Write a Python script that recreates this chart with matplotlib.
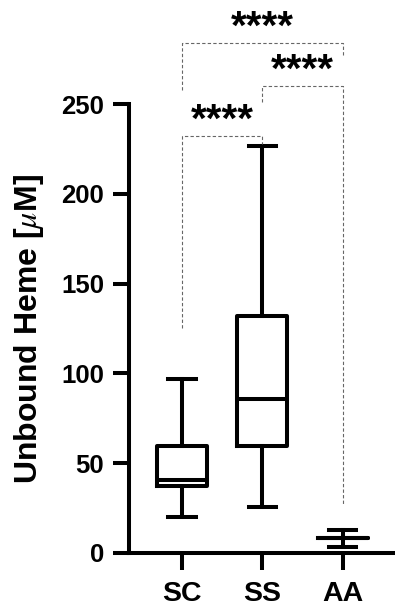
import matplotlib
matplotlib.use("Agg")
import matplotlib.pyplot as plt

plt.rcParams['font.family'] = ['Liberation Sans', 'DejaVu Sans']
plt.rcParams['mathtext.fontset'] = 'stix'

# box plot summary values
groups = ["SC", "SS", "AA"]
whislo = [19.9, 25.4, 3.3]
q1 = [37.3, 59.6, 8.4]
med = [40.5, 86.0, 8.4]
q3 = [59.6, 132.0, 8.4]
whishi = [96.9, 226.8, 12.8]

# significance brackets: (left group, right group, height, left leg end, right leg end)
pairs = [(1, 2, 232.3, 125.3, 228.0),
         (2, 3, 260.0, 251.0, 26.7),
         (1, 3, 284.0, 257.8, 276.7)]
stars = ["****", "****", "****"]

fig = plt.figure(figsize=(3.95, 6.07), dpi=100)
ax = fig.add_axes([129/395, 1 - 553/607, (395 - 129)/395, (553 - 104)/607])

stats = []
for i in range(len(groups)):
    stats.append(dict(whislo=whislo[i], q1=q1[i], med=med[i], q3=q3[i],
                      whishi=whishi[i], fliers=[], label=groups[i]))

lw = 2.9
ax.bxp(stats, positions=[1, 2, 3], widths=0.62, capwidths=0.34,
       showfliers=False,
       boxprops=dict(color="black", linewidth=lw),
       medianprops=dict(color="black", linewidth=lw),
       whiskerprops=dict(color="black", linewidth=lw),
       capprops=dict(color="black", linewidth=lw))

for (a, b, h, la, lb), s in zip(pairs, stars):
    ax.plot([a, a, b, b], [la, h, h, lb], color="#666666", lw=0.8,
            ls=(0, (3, 2)), clip_on=False)
    ax.text((a + b) / 2, h + 2.5, s, ha="center", va="baseline",
            fontsize=29, fontweight="bold", clip_on=False)

ax.set_xlim(0.34, 3.65)
ax.set_ylim(0, 250)
ax.set_yticks([0, 50, 100, 150, 200, 250])
ax.set_xticks([1, 2, 3])
ax.set_xticklabels(groups)

for sp in ["top", "right"]:
    ax.spines[sp].set_visible(False)
for sp in ["left", "bottom"]:
    ax.spines[sp].set_linewidth(2.9)

ax.tick_params(axis="y", length=11.5, width=2.9, pad=6.5, labelsize=18.5)
ax.tick_params(axis="x", length=12, width=2.9, pad=8.5, labelsize=20.5)
for t in ax.get_yticklabels() + ax.get_xticklabels():
    t.set_fontweight("bold")

ax.set_ylabel(r"Unbound Heme [$\mu$M]", fontsize=23, fontweight="bold")
ax.yaxis.set_label_coords(-0.312, 0.5)

fig.savefig("out.png", dpi=100)
